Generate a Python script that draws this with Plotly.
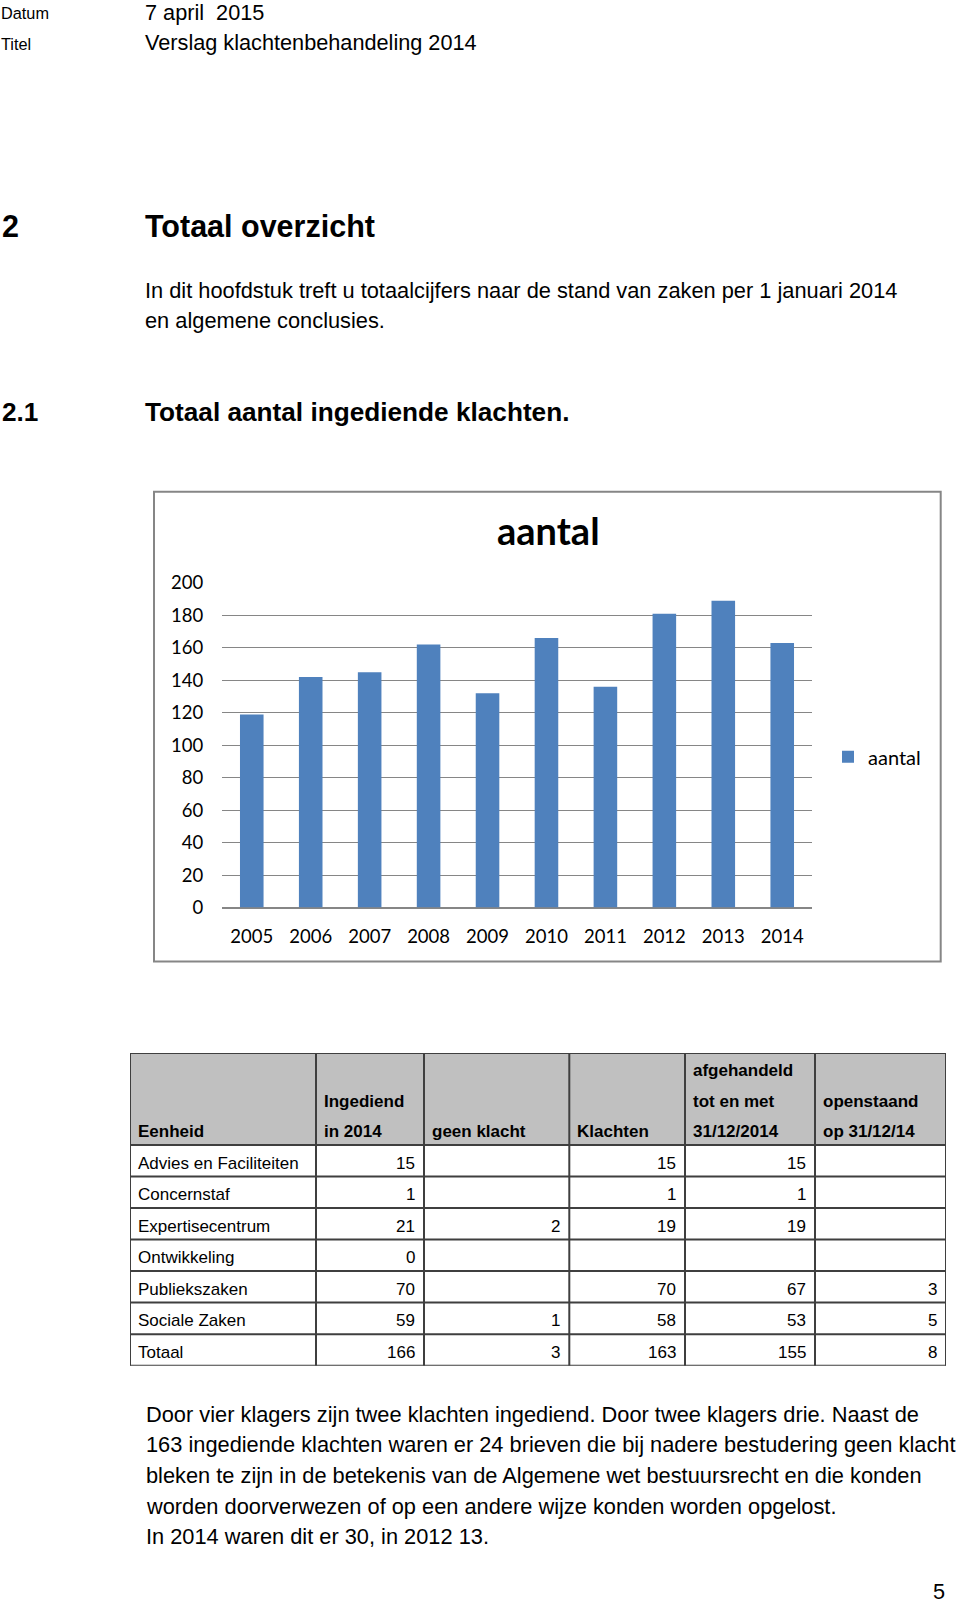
import plotly.graph_objects as go

W, H = 960, 1606

# ---------------- data ----------------
years = ["2005", "2006", "2007", "2008", "2009", "2010", "2011", "2012", "2013", "2014"]
aantal = [119, 142, 145, 162, 132, 166, 136, 181, 189, 163]
y_tick_vals = [0, 20, 40, 60, 80, 100, 120, 140, 160, 180, 200]

header_lines = [["Eenheid"], ["Ingediend", "in 2014"], ["geen klacht"], ["Klachten"],
                ["afgehandeld", "tot en met", "31/12/2014"], ["openstaand", "op 31/12/14"]]
eenheden = ["Advies en Faciliteiten", "Concernstaf", "Expertisecentrum", "Ontwikkeling",
            "Publiekszaken", "Sociale Zaken", "Totaal"]
ingediend = [15, 1, 21, 0, 70, 59, 166]
geen_klacht = [None, None, 2, None, None, 1, 3]
klachten = [15, 1, 19, None, 70, 58, 163]
afgehandeld = [15, 1, 19, None, 67, 53, 155]
openstaand = [None, None, None, None, 3, 5, 8]

intro_lines = ["In dit hoofdstuk treft u totaalcijfers naar de stand van zaken per 1 januari 2014",
               "en algemene conclusies."]
closing_lines = ["Door vier klagers zijn twee klachten ingediend. Door twee klagers drie. Naast de",
                 "163 ingediende klachten waren er 24 brieven die bij nadere bestudering geen klacht",
                 "bleken te zijn in de betekenis van de Algemene wet bestuursrecht en die konden",
                 "worden doorverwezen of op een andere wijze konden worden opgelost.",
                 "In 2014 waren dit er 30, in 2012 13."]

# ---------------- styles ----------------
DOC_FONT = "Liberation Sans, Arial, sans-serif"
CHART_FONT = "Lato, Open Sans, sans-serif"
BAR_COLOR = "#4f81bd"
GRID_COLOR = "#868686"
TABLE_LINE = "#3f3f3f"
HEADER_FILL = "#c0c0c0"

COL_W = [186, 108, 145.3, 115.7, 130, 131]
HEADER_H = 92.3
ROW_H = 31.6
TABLE_TOP, TABLE_LEFT = 1051.7, 130

# vertical page calibration (observed in the rendered page)
VS, VO = 0.9885, 8.5


def Y(y_px):
    """page pixel row -> paper fraction"""
    return 1 - ((y_px - VO) / VS) / H


fig = go.Figure()

# ---------------- bar chart ----------------
fig.add_trace(go.Bar(x=years, y=aantal, name="aantal", marker=dict(color=BAR_COLOR, line=dict(width=0)),
                     xaxis="x", yaxis="y", hoverinfo="skip"))

col_edges = [0]
for w in COL_W:
    col_edges.append(col_edges[-1] + w)
table_h = HEADER_H + ROW_H * len(eenheden)
fig.add_trace(go.Scatter(x=[0, col_edges[-1]], y=[0, table_h], mode="markers",
                         marker=dict(opacity=0), xaxis="x2", yaxis="y2",
                         showlegend=False, hoverinfo="skip"))

fig.update_layout(
    width=W, height=H, margin=dict(l=0, r=0, t=0, b=0),
    paper_bgcolor="white", plot_bgcolor="white", hovermode=False,
    bargap=0.6,
    showlegend=True,
    legend=dict(x=828 / W, y=Y(755), xanchor="left", yanchor="middle",
                font=dict(family=CHART_FONT, size=20, color="black"),
                bgcolor="rgba(0,0,0,0)", itemwidth=30, borderwidth=0),
    xaxis=dict(domain=[222.3 / W, 811.7 / W], anchor="y", type="category",
               showgrid=False, ticks="", showline=True, linecolor=GRID_COLOR, linewidth=1,
               tickfont=dict(family=CHART_FONT, size=18.5, color="black"),
               ticklabelstandoff=12, fixedrange=True),
    yaxis=dict(domain=[Y(906), Y(580.7)], anchor="x", range=[0, 200],
               tickvals=y_tick_vals, showgrid=True, gridcolor=GRID_COLOR, gridwidth=1,
               zeroline=True, zerolinecolor=GRID_COLOR, zerolinewidth=1,
               ticks="", showline=False,
               tickfont=dict(family=CHART_FONT, size=18.5, color="black"),
               ticklabelstandoff=18, fixedrange=True),
    xaxis2=dict(domain=[TABLE_LEFT / W, (TABLE_LEFT + col_edges[-1]) / W], anchor="y2",
                range=[0, col_edges[-1]], visible=False, fixedrange=True),
    yaxis2=dict(domain=[Y(TABLE_TOP + table_h), Y(TABLE_TOP)], anchor="x2",
                range=[table_h, 0], visible=False, fixedrange=True),
)

# chart frame
fig.add_shape(type="rect", xref="paper", yref="paper",
              x0=154 / W, x1=940.7 / W, y0=Y(960), y1=Y(489.3),
              line=dict(color=GRID_COLOR, width=2), fillcolor="rgba(0,0,0,0)", layer="below")

# chart title
fig.add_annotation(xref="paper", yref="paper", x=548 / W, y=Y(542 - 0.387 * 38),
                   text="aantal", showarrow=False, xanchor="center", yanchor="middle",
                   font=dict(family=CHART_FONT, size=38, color="black", weight="bold"), borderpad=0)


# ---------------- document text ----------------
def doc_text(x, base, text, size, bold=False, anchor="left"):
    cy = base - 0.3465 * size
    fig.add_annotation(xref="paper", yref="paper", x=x / W, y=Y(cy), text=text,
                       showarrow=False, xanchor=anchor, yanchor="middle", borderpad=0,
                       font=dict(family=DOC_FONT, size=size, color="black",
                                 weight="bold" if bold else "normal"))


doc_text(0, 15.5, "Datum", 16.3)
doc_text(143.5, 16.3, "7 april\u00a0\u00a02015", 21.7)
doc_text(0, 46.5, "Titel", 16.3)
doc_text(143.5, 46.8, "Verslag klachtenbehandeling 2014", 21.7)

doc_text(0.5, 233.7, "2", 30.5, bold=True)
doc_text(144, 233.7, "Totaal overzicht", 30.5, bold=True)
for i, line in enumerate(intro_lines):
    doc_text(144, 295.3 + 30 * i, line, 21.8)
doc_text(0.5, 418, "2.1", 26.2, bold=True)
doc_text(144, 418, "Totaal aantal ingediende klachten.", 26.2, bold=True)

for i, line in enumerate(closing_lines):
    doc_text(144.5, 1421.5 + 30.7 * i, line, 21.8)
doc_text(946, 1599, "5", 21.7, anchor="right")

# ---------------- table ----------------
fig.add_shape(type="rect", xref="x2", yref="y2", x0=0, x1=col_edges[-1], y0=0, y1=HEADER_H,
              fillcolor=HEADER_FILL, line=dict(width=0), layer="below")
row_edges = [0, HEADER_H] + [HEADER_H + ROW_H * (k + 1) for k in range(len(eenheden))]
for yv in row_edges:
    fig.add_shape(type="line", xref="x2", yref="y2", x0=0, x1=col_edges[-1], y0=yv, y1=yv,
                  line=dict(color=TABLE_LINE, width=2))
for xv in col_edges:
    fig.add_shape(type="line", xref="x2", yref="y2", x0=xv, x1=xv, y0=0, y1=table_h,
                  line=dict(color=TABLE_LINE, width=2))

TFS = 17
LINE_STEP = 30.5
for c, lines in enumerate(header_lines):
    n = len(lines)
    for k, t in enumerate(lines):
        cy = HEADER_H - 13.3 - LINE_STEP * (n - 1 - k)
        fig.add_annotation(xref="x2", yref="y2", x=col_edges[c], y=cy, xshift=6.5,
                           text=t, showarrow=False, xanchor="left", yanchor="middle", borderpad=0,
                           font=dict(family=DOC_FONT, size=TFS, color="black", weight="bold"))

columns = [ingediend, geen_klacht, klachten, afgehandeld, openstaand]
for r, name in enumerate(eenheden):
    cy = HEADER_H + ROW_H * r + 18.3
    fig.add_annotation(xref="x2", yref="y2", x=col_edges[0], y=cy, xshift=6.5, text=name,
                       showarrow=False, xanchor="left", yanchor="middle", borderpad=0,
                       font=dict(family=DOC_FONT, size=TFS, color="black"))
    for c, col in enumerate(columns):
        v = col[r]
        if v is None:
            continue
        fig.add_annotation(xref="x2", yref="y2", x=col_edges[c + 2], y=cy, xshift=-8.5,
                           text=str(v), showarrow=False, xanchor="right", yanchor="middle",
                           borderpad=0, font=dict(family=DOC_FONT, size=TFS, color="black"))

fig.write_html("out.html", config={"displayModeBar": False})
